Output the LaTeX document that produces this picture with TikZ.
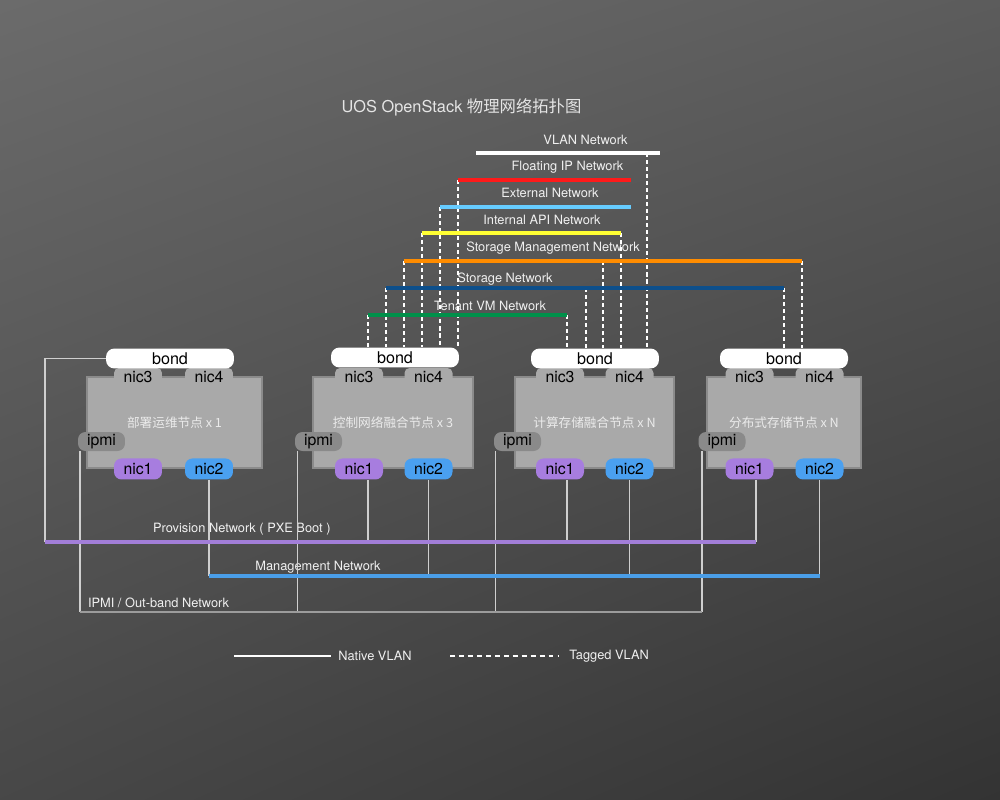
\documentclass[tikz,border=0pt]{standalone}
\usepackage{fontspec}
\setmainfont{TeX Gyre Heros}
\newfontfamily\cjk{Noto Sans CJK SC}
\usepackage{xcolor}
\usepackage{tikz}
\usetikzlibrary{shadings}

\definecolor{boxgray}{HTML}{A9A9A9}
\definecolor{boxedge}{HTML}{8B8B8B}
\definecolor{ipmigray}{HTML}{8A8A8A}
\definecolor{nicpurple}{HTML}{A77DDF}
\definecolor{nicblue}{HTML}{4AA0F0}
\definecolor{wire}{HTML}{CFCFCF}
\definecolor{provcol}{HTML}{A27ED8}
\definecolor{mgmtcol}{HTML}{4A9EE8}
\definecolor{ipmicol}{HTML}{9C9C9C}
\definecolor{fipcol}{HTML}{FF1A1A}
\definecolor{extcol}{HTML}{66CCFF}
\definecolor{apicol}{HTML}{FFFF33}
\definecolor{smgcol}{HTML}{FF8C00}
\definecolor{stocol}{HTML}{0D4F8B}
\definecolor{tencol}{HTML}{00904A}

\tikzset{
  server/.style={draw=boxedge, fill=boxgray, line width=1.1pt, minimum height=1.82cm,
    inner sep=0pt, text=white!92!black, font={\cjk\fontsize{7.2}{8}\selectfont}},
  bondpill/.style={fill=white, rounded corners=0.17cm, minimum width=2.56cm,
    minimum height=0.4cm, inner sep=0pt, font=\fontsize{9.2}{10}\selectfont},
  nictab/.style={fill=boxgray, rounded corners=0.1cm, minimum width=0.96cm,
    minimum height=0.36cm, inner sep=0pt, font=\fontsize{9}{10}\selectfont},
  nicport/.style={rounded corners=0.15cm, minimum width=0.96cm,
    minimum height=0.42cm, inner sep=0pt, font=\fontsize{9}{10}\selectfont},
  ipmiport/.style={fill=ipmigray, rounded corners=0.15cm, minimum width=0.94cm,
    minimum height=0.38cm, inner sep=0pt, font=\fontsize{9}{10}\selectfont},
  netline/.style={line width=2.1pt},
  netlabel/.style={text=white!94!black, inner sep=0pt, font=\fontsize{7.3}{8}\selectfont},
  native/.style={draw=wire, line width=0.6pt},
  tagged/.style={draw=white, line width=0.6pt, dash pattern=on 2.3pt off 1.7pt},
}

\begin{document}
\begin{tikzpicture}[x=0.02cm, y=-0.02cm, >=latex]
% ===== 背景 =====
\shade[upper left=black!58, upper right=black!64, lower left=black!72, lower right=black!80]
  (0,0) rectangle (1000,800);
\useasboundingbox (0,0) rectangle (1000,800);

% ===== 标题 =====
\node[text=white!90!black, font=\fontsize{9.3}{11}\selectfont] (title) at (461.5,107)
  {UOS OpenStack {\cjk 物理网络拓扑图}};

% ===== 节点主体 =====
\node[server, minimum width=3.5cm]  (srvA) at (174.5,422.5) {部署运维节点 x 1};
\node[server, minimum width=3.2cm]  (srvB) at (393,422.5)   {控制网络融合节点 x 3};
\node[server, minimum width=3.18cm] (srvC) at (594.5,422.5) {计算存储融合节点 x N};
\node[server, minimum width=3.08cm] (srvD) at (784,422.5)   {分布式存储节点 x N};

% ===== nic3 / nic4 =====
\node[nictab] (nic3A) at (138,377)   {nic3};
\node[nictab] (nic4A) at (209,377)   {nic4};
\node[nictab] (nic3B) at (359,377)   {nic3};
\node[nictab] (nic4B) at (428.5,377) {nic4};
\node[nictab] (nic3C) at (560,377)   {nic3};
\node[nictab] (nic4C) at (629.5,377) {nic4};
\node[nictab] (nic3D) at (749.5,377) {nic3};
\node[nictab] (nic4D) at (819.5,377) {nic4};

% ===== bond =====
\node[bondpill] (bondA) at (170,358.5) {bond};
\node[bondpill] (bondB) at (395,357.5) {bond};
\node[bondpill] (bondC) at (595,358.5) {bond};
\node[bondpill] (bondD) at (784,358.5) {bond};

% ===== nic1 / nic2 =====
\node[nicport, fill=nicpurple] (nic1A) at (nic3A |- srvA.south) {nic1};
\node[nicport, fill=nicblue]   (nic2A) at (nic4A |- srvA.south) {nic2};
\node[nicport, fill=nicpurple] (nic1B) at (nic3B |- srvB.south) {nic1};
\node[nicport, fill=nicblue]   (nic2B) at (nic4B |- srvB.south) {nic2};
\node[nicport, fill=nicpurple] (nic1C) at (nic3C |- srvC.south) {nic1};
\node[nicport, fill=nicblue]   (nic2C) at (nic4C |- srvC.south) {nic2};
\node[nicport, fill=nicpurple] (nic1D) at (nic3D |- srvD.south) {nic1};
\node[nicport, fill=nicblue]   (nic2D) at (nic4D |- srvD.south) {nic2};

% ===== ipmi =====
\node[ipmiport] (ipmiA) at (101.5,441.5) {ipmi};
\node[ipmiport] (ipmiB) at (318.5,441.5) {ipmi};
\node[ipmiport] (ipmiC) at (517.5,441.5) {ipmi};
\node[ipmiport] (ipmiD) at (722,441.5)   {ipmi};

% ===== Tagged VLAN 网络 =====
\coordinate (vlanL) at (476,153); \coordinate (vlanR) at (660,153); \coordinate (vlanC) at (647,153);
\coordinate (fipL) at (458,180);  \coordinate (fipR) at (631,180);
\coordinate (extL) at (440,207);  \coordinate (extR) at (631,207);
\coordinate (apiL) at (422,233);  \coordinate (apiR) at (621,233);
\coordinate (smgL) at (404,261);  \coordinate (smgR) at (802,261); \coordinate (smgC) at (603,261);
\coordinate (stoL) at (386,288);  \coordinate (stoR) at (784,288); \coordinate (stoC) at (586,288);
\coordinate (tenL) at (368,315);  \coordinate (tenR) at (567,315);

\node[netlabel] (vlanT) at (585.5,140) {VLAN Network};
\node[netlabel] (fipT)  at (567.5,167) {Floating IP Network};
\node[netlabel] (extT)  at (550,193)   {External Network};
\node[netlabel] (apiT)  at (542,220)   {Internal API Network};
\node[netlabel] (smgT)  at (553,248)   {Storage Management Network};
\node[netlabel] (stoT)  at (505,279)   {Storage Network};
\node[netlabel] (tenT)  at (490,306)   {Tenant VM Network};

% 虚线 (tagged)
\draw[tagged] (vlanC) -- (vlanC |- bondC.north);
\draw[tagged] (fipL) -- (fipL |- bondB.north);
\draw[tagged] (extL) -- (extL |- bondB.north);
\draw[tagged] (apiL) -- (apiL |- bondB.north);
\draw[tagged] (apiR) -- (apiR |- bondC.north);
\draw[tagged] (smgL) -- (smgL |- bondB.north);
\draw[tagged] (smgC) -- (smgC |- bondC.north);
\draw[tagged] (smgR) -- (smgR |- bondD.north);
\draw[tagged] (stoL) -- (stoL |- bondB.north);
\draw[tagged] (stoC) -- (stoC |- bondC.north);
\draw[tagged] (stoR) -- (stoR |- bondD.north);
\draw[tagged] (tenL) -- (tenL |- bondB.north);
\draw[tagged] (tenR) -- (tenR |- bondC.north);

% 网络线
\draw[netline, white]  (vlanL) -- (vlanR);
\draw[netline, fipcol] (fipL) -- (fipR);
\draw[netline, extcol] (extL) -- (extR);
\draw[netline, apicol] (apiL) -- (apiR);
\draw[netline, smgcol] (smgL) -- (smgR);
\draw[netline, stocol] (stoL) -- (stoR);
\draw[netline, tencol] (tenL) -- (tenR);

% ===== Native VLAN 网络 =====
\coordinate (provL) at (45,542);  \coordinate (provR) at (756,542);
\coordinate (mgmtL) at (206,576); \coordinate (mgmtR) at (820,576);
\coordinate (ipmL)  at (80,612);  \coordinate (ipmR)  at (702,612);

\node[netlabel] (provT) at (241.8,529) {Provision Network ( PXE Boot )};
\node[netlabel] (mgmtT) at (318,567)   {Management Network};
\node[netlabel] (ipmT)  at (158.5,603) {IPMI / Out-band Network};

% 竖线
\draw[native] (bondA.west) -| (provL);
\coordinate (p1B) at ([xshift=0.18cm]nic1B.south);
\coordinate (p1C) at ([xshift=0.14cm]nic1C.south);
\coordinate (p1D) at ([xshift=0.13cm]nic1D.south);
\draw[native] (p1B) -- (p1B |- provL);
\draw[native] (p1C) -- (p1C |- provL);
\draw[native] (p1D) -- (p1D |- provL);
\draw[native] (nic2A.south) -- (nic2A.south |- mgmtL);
\draw[native] (nic2B.south) -- (nic2B.south |- mgmtL);
\draw[native] (nic2C.south) -- (nic2C.south |- mgmtL);
\draw[native] (nic2D.south) -- (nic2D.south |- mgmtL);
\coordinate (iA) at (ipmiA.south -| ipmL);
\coordinate (iB) at ([xshift=0.05cm]ipmiB.south west);
\coordinate (iC) at ([xshift=0.04cm]ipmiC.south west);
\coordinate (iD) at (ipmiD.south -| ipmR);
\draw[native] (iA) -- (iA |- ipmL);
\draw[native] (iB) -- (iB |- ipmL);
\draw[native] (iC) -- (iC |- ipmL);
\draw[native] (iD) -- (iD |- ipmL);

% 网络线
\draw[netline, provcol] (provL) -- (provR);
\draw[netline, mgmtcol] (nic2A.south |- mgmtL) -- (mgmtR);
\draw[line width=1.6pt, ipmicol] (ipmL) -- (ipmR);

% ===== 图例 =====
\coordinate (natL) at (234,656); \coordinate (natR) at (331,656);
\coordinate (tagL) at (450,656); \coordinate (tagR) at (558,656);
\draw[white, line width=0.6pt] (natL) -- (natR);
\node[netlabel, anchor=west] (natT) at (338,656) {Native VLAN};
\draw[white, line width=0.6pt, dash pattern=on 2.8pt off 2.3pt] (tagL) -- (tagR);
\node[netlabel, anchor=west] (tagT) at (569,656) {Tagged VLAN};
\end{tikzpicture}
\end{document}
